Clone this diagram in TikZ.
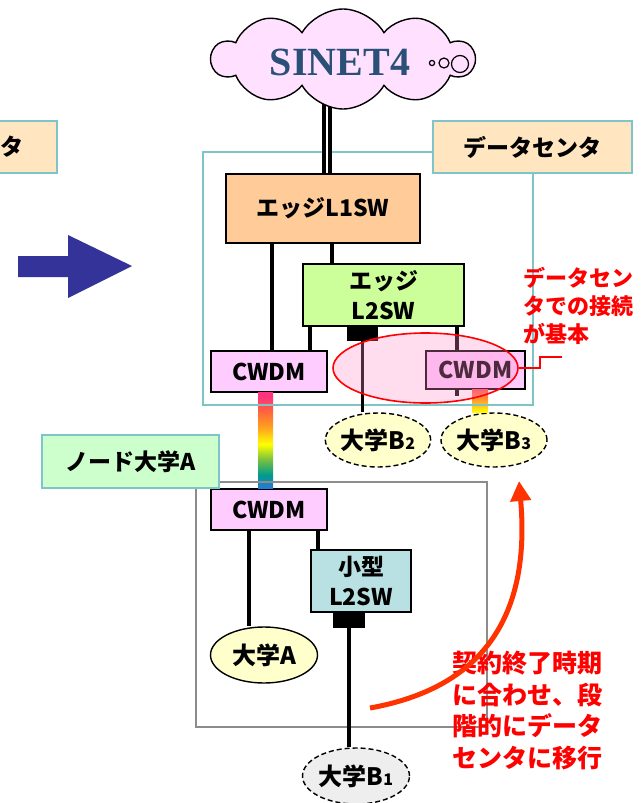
\documentclass[tikz,border=0pt]{standalone}
\usepackage{fontspec}
\setmainfont{Noto Sans CJK JP}
\newfontfamily\sinetfont{Liberation Serif}
\usetikzlibrary{shapes.geometric,shapes.symbols,arrows.meta}
\definecolor{tealb}{HTML}{7FC4C8}
\definecolor{peach}{HTML}{FFE5C0}
\definecolor{lorange}{HTML}{FFCC99}
\definecolor{lgreen}{HTML}{CCFF99}
\definecolor{lmint}{HTML}{CCFFCC}
\definecolor{lpink}{HTML}{FFCCFF}
\definecolor{lblue}{HTML}{B9E0E2}
\definecolor{lyellow}{HTML}{FFFFCC}
\definecolor{lgray}{HTML}{EEEEEE}
\definecolor{cloudpink}{HTML}{FFE0FF}
\definecolor{sinetblue}{HTML}{2A5077}
\definecolor{arrowblue}{HTML}{333399}
\definecolor{redarrow}{HTML}{FF3300}
\definecolor{boxgray}{HTML}{8C8C8C}
\definecolor{rbBlue}{HTML}{2878D8}
\definecolor{rbTeal}{HTML}{009C8C}
\definecolor{rbGreen}{HTML}{78C040}
\definecolor{rbYellow}{HTML}{FFFF00}
\definecolor{rbOrange}{HTML}{FFA020}
\definecolor{rbRed}{HTML}{FF6040}
\definecolor{rbPink}{HTML}{FF3380}
\definecolor{rbRed2}{HTML}{FF5050}
\pgfdeclareverticalshading{rainbowL}{100bp}{color(0bp)=(rbBlue); color(25bp)=(rbBlue); color(32bp)=(rbTeal); color(40bp)=(rbGreen); color(48bp)=(rbYellow); color(57bp)=(rbOrange); color(66bp)=(rbRed); color(73bp)=(rbPink); color(100bp)=(rbPink)}
\begin{document}
\begin{tikzpicture}[x=1pt,y=-1pt,
  txt/.style={font=\bfseries\fontsize{23}{28}\selectfont},
  swbox/.style={draw=black, line width=1.6pt, inner sep=0pt, txt, align=center},
  lblbox/.style={draw=tealb, line width=2pt, inner sep=0pt, txt},
  port/.style={fill=black, inner sep=0pt},
  conn/.style={line width=3.2pt, draw=black},
  univ/.style={ellipse, draw=black, line width=1.4pt, inner sep=0pt, font=\bfseries\fontsize{24}{28}\selectfont},
  univd/.style={univ, dashed, dash pattern=on 5pt off 3pt},
  redtxt/.style={text=red, align=left, inner sep=0pt, anchor=west}
]
\useasboundingbox (0,0) rectangle (640,803);

% left arrow
\fill[arrowblue] (18,256) -- (68,256) -- (68,235) -- (132,266) -- (68,298) -- (68,277) -- (18,277) -- cycle;

% old data center label (cut off)
\node[lblbox, fill=peach, minimum width=80pt, minimum height=52pt] (oldlbl) at (17,147) {};
\node[txt, inner sep=0pt] (oldtxt) at (12,147) {タ};

% switch boxes
\node[swbox, fill=lorange, minimum width=194pt, minimum height=69pt] (l1sw) at (323,208.5) {エッジL1SW};
\node[swbox, fill=lgreen, minimum width=161pt, minimum height=62pt, font=\bfseries\fontsize{23}{30}\selectfont] (l2sw) at (383.5,295) {エッジ\\L2SW};
\node[port, minimum width=31pt, minimum height=15pt, anchor=north] (port1) at (362.5,326) {};
\node[swbox, fill=lpink, minimum width=116pt, minimum height=41pt] (cwl) at (269,371.5) {CWDM};
\node[swbox, fill=lpink, minimum width=99pt, minimum height=38pt] (cwr) at (475.5,370) {CWDM};
\node[swbox, fill=lpink, minimum width=116pt, minimum height=41pt] (cwlow) at (269,509.5) {CWDM};
\node[swbox, fill=lblue, minimum width=100pt, minimum height=62pt, font=\bfseries\fontsize{23}{30}\selectfont] (small) at (361,581) {小型\\L2SW};
\node[port, minimum width=32pt, minimum height=16pt, anchor=north] (port2) at (349,612) {};

% university ellipses
\node[univd, fill=lyellow, minimum width=104pt, minimum height=54pt] (b2) at (378,440) {大学B{\fontsize{16}{16}\selectfont 2}};
\node[univd, fill=lyellow, minimum width=106pt, minimum height=54pt] (b3) at (494,440) {大学B{\fontsize{16}{16}\selectfont 3}};
\node[univ, fill=lyellow, minimum width=107pt, minimum height=56pt] (ua) at (264,655) {大学A};
\node[univd, fill=lgray, minimum width=107pt, minimum height=56pt] (b1) at (356,776) {大学B{\fontsize{16}{16}\selectfont 1}};

% rainbow fibres
\shade[shading=rainbowL] (cwl.south -| 258,0) rectangle (cwlow.north -| 273,0);
\shade[top color=rbRed2, middle color=rbOrange, bottom color=rbYellow] (cwr.south -| 472,0) rectangle (b3.north -| 488,0);

% containers
\draw[draw=tealb, line width=2pt] (203,152) rectangle (533,405);
\draw[draw=boxgray, line width=2pt] (196,482) rectangle (487,727);
\node[lblbox, fill=peach, minimum width=199pt, minimum height=52pt] (dclbl) at (532.5,147) {データセンタ};
\node[lblbox, fill=lmint, minimum width=177pt, minimum height=53pt] (nodelbl) at (130.5,461.5) {ノード大学A};

% cable to cloud
\coordinate (cabletop) at (327,100);
\draw[line width=4pt, double=white, double distance=2pt] (cabletop) -- (cabletop |- l1sw.north);
\node[cloud, cloud puffs=10, cloud puff arc=120, aspect=2.55, draw=black, line width=1.4pt, fill=cloudpink, minimum width=262pt, minimum height=100pt, inner sep=0pt] (cloud) at (343,59) {};
\node[font=\sinetfont\bfseries\fontsize{40}{42}\selectfont, text=sinetblue, inner sep=0pt] (sinet) at (340,62) {SINET4};
\draw[line width=1.2pt, fill=cloudpink] (432,63) circle (2.6) (444,63) circle (5) (460,64) circle (8.5);
\node[inner sep=0pt] (bubbles) at (446,63) {};

% connectors
\draw[conn] (l1sw.south -| 272,0) -- (cwl.north -| 272,0);
\draw[conn] (l1sw.south -| 332,0) -- (l2sw.north -| 332,0);
\draw[conn] (l2sw.south -| 310,0) -- (cwl.north -| 310,0);
\draw[conn] (port1.south) -- (port1.south |- b2.north);
\draw[conn] (l2sw.south -| 457,0) -- (cwr.north -| 457,0);
\draw[conn] (cwr.south -| 457,0) -- ++(0,6);
\draw[conn] (cwlow.south -| 249,0) -- (ua.north -| 249,0);
\draw[conn] (cwlow.south -| 318,0) -- (small.north -| 318,0);
\draw[conn] (port2.south) -- (port2.south |- b1.north);

% red highlight
\node[ellipse, draw=red, line width=1.6pt, fill={rgb,255:red,255;green,140;blue,200}, fill opacity=0.3, minimum width=185pt, minimum height=70pt, inner sep=0pt] (hl) at (425.5,368) {};
\coordinate (hlend) at (562,357);
\draw[red, line width=1.4pt] (hl.east) -- (540,368) |- (hlend);
\node[redtxt, font=\bfseries\fontsize{22}{28}\selectfont] (note1) at (523,306) {データセン\\タでの接続\\が基本};
\node[redtxt, font=\bfseries\fontsize{25}{31.5}\selectfont] (note2) at (452,710.5) {契約終了時期\\に合わせ、段\\階的にデータ\\センタに移行};

% red migration arrow
\coordinate (mvstart) at (370,708);
\coordinate (mvend) at (519,481);
\draw[redarrow, line width=5pt, -{Triangle[width=20pt,length=20pt]}] (mvstart) .. controls (470,690) and (532,630) .. (mvend);
\end{tikzpicture}
\end{document}
